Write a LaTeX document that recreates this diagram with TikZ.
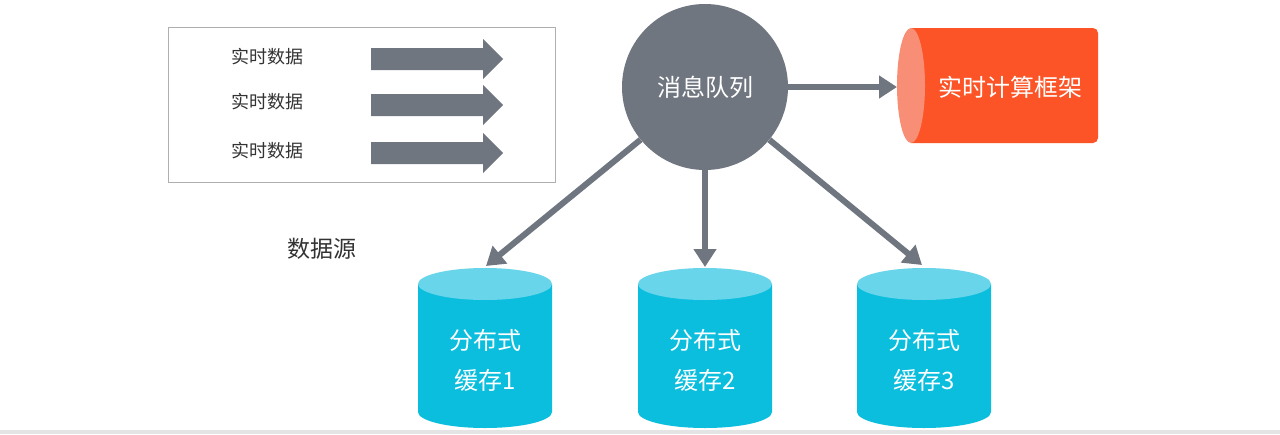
\documentclass[tikz,border=0pt]{standalone}
\usepackage{fontspec}
\setmainfont{Noto Sans CJK SC}
\usetikzlibrary{arrows.meta}
\definecolor{qgray}{HTML}{6F7680}
\definecolor{boxgray}{HTML}{AFAFAF}
\definecolor{redbody}{HTML}{FC5426}
\definecolor{redcap}{HTML}{F88E76}
\definecolor{cyanbody}{HTML}{0BBEDD}
\definecolor{cyantop}{HTML}{68D5EA}
\definecolor{txtdark}{HTML}{333333}
\definecolor{strip}{HTML}{E4E4E4}
\begin{document}
\begin{tikzpicture}[x=1pt,y=-1pt,
  flow/.style={draw=qgray,line width=6pt,-{Triangle[width=22pt,length=18pt]}},
  wt/.style={text=white,font=\fontsize{24}{40}\selectfont,align=center,inner sep=0},
  srctext/.style={text=txtdark,font=\fontsize{18}{22}\selectfont,inner sep=0},
  blockarrow/.style={fill=qgray}]
\useasboundingbox (0,0) rectangle (1280,434);
\fill[white] (0,0) rectangle (1280,434);
\fill[strip] (0,430) rectangle (1280,434);

% data source box
\node[draw=boxgray, line width=1.2pt, minimum width=387pt, minimum height=155pt, inner sep=0, anchor=north west] (src) at (168,27) {};
\node[srctext] (d1) at (267,57) {实时数据};
\node[srctext] (d2) at (267,102) {实时数据};
\node[srctext] (d3) at (267,151) {实时数据};
\foreach \y in {59,105,153} {
  \fill[blockarrow] (371,{\y-11}) -- (483,{\y-11}) -- (483,{\y-20}) -- (503,\y) -- (483,{\y+20}) -- (483,{\y+11}) -- (371,{\y+11}) -- cycle;
}
\node[text=txtdark,font=\fontsize{23}{28}\selectfont,inner sep=0] (ds) at (322,249) {数据源};

% message queue
\node[circle, fill=qgray, minimum size=166pt, inner sep=0, wt] (mq) at (705,87) {消息队列};

% real-time computing framework (horizontal cylinder)
\fill[redbody] (911,28) {[rounded corners=5pt] -- (1098,28) -- (1098,143)} -- (911,143) -- cycle;
\fill[redcap] (911,85.5) ellipse[x radius=14, y radius=57.5];
\node[wt] (rt) at (1010,87) {实时计算框架};
\coordinate (rcap) at (897,87);
\draw[flow] (mq) -- (rcap);

% distributed caches
\foreach \cx/\n/\k in {485/1/c1, 705/2/c2, 924/3/c3} {
  \fill[cyanbody] ({\cx-67},284) -- ({\cx-67},412) arc[start angle=180, end angle=0, x radius=67, y radius=16] -- ({\cx+67},284) -- cycle;
  \fill[cyantop] (\cx,284) ellipse[x radius=67, y radius=16];
  \node[wt] (\k) at (\cx,360) {分布式\\缓存\n};
}
\coordinate (t1) at (486,266);
\coordinate (t2) at (705,267);
\coordinate (t3) at (922,265);
\draw[flow] (mq) -- (t1);
\draw[flow] (mq) -- (t2);
\draw[flow] (mq) -- (t3);
\end{tikzpicture}
\end{document}
